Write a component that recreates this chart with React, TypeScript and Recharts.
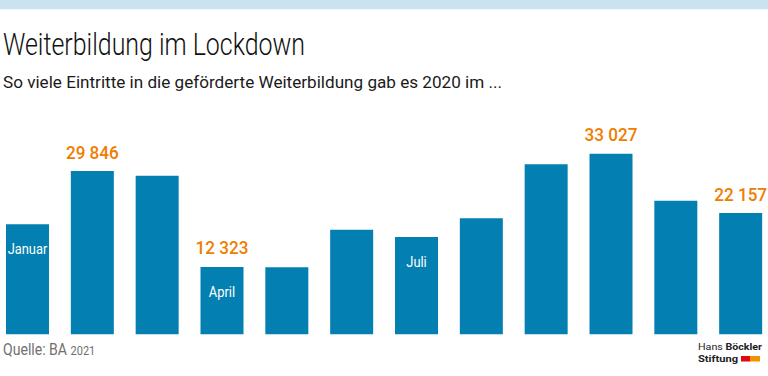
import React from 'react';
import { BarChart, Bar, XAxis, YAxis, LabelList } from 'recharts';

const months = ['Januar', 'Februar', 'März', 'April', 'Mai', 'Juni', 'Juli', 'August', 'September', 'Oktober', 'November', 'Dezember'];
const entries = [20100, 29846, 29000, 12323, 12250, 19100, 17800, 21200, 31100, 33027, 24400, 22157];
const valueLabelMonths = ['Februar', 'April', 'Oktober', 'Dezember'];
const insideLabelMonths = ['Januar', 'April', 'Juli'];

const title = 'Weiterbildung im Lockdown';
const subtitle = 'So viele Eintritte in die geförderte Weiterbildung gab es 2020 im ...';
const source = 'Quelle: BA';
const sourceYear = '2021';

const data = months.map((m, i) => ({
  month: m,
  value: entries[i],
  valueLabel: valueLabelMonths.includes(m) ? entries[i] : null,
  monthLabel: insideLabelMonths.includes(m) ? m : null,
}));

const BLUE = '#0380b1';
const ORANGE = '#f07d00';
const FONT = 'Roboto, "Liberation Sans", sans-serif';

const fmt = (v: number) => String(v).replace(/\B(?=(\d{3})+(?!\d))/g, ' ');

const ValueLabel = (props: any) => {
  const { x, y, width, value } = props;
  if (value === null || value === undefined) return null;
  return (
    <text transform={`translate(${x + width / 2},${y - 12.5}) scale(0.9,1)`} textAnchor="middle" fill={ORANGE}
      fontFamily={FONT} fontSize={19} fontWeight={500}>
      {fmt(value)}
    </text>
  );
};

const MonthLabel = (props: any) => {
  const { x, y, width, value } = props;
  if (!value) return null;
  return (
    <text transform={`translate(${x + width / 2},${y + 30}) scale(0.86,1)`} textAnchor="middle" fill="#ffffff"
      fontFamily={FONT} fontSize={15}>
      {value}
    </text>
  );
};

export default function App() {
  return (
    <div style={{ position: 'absolute', left: 0, top: 0, width: 768, height: 376, overflow: 'hidden', background: '#fff' }}>
      <svg width={768} height={376} style={{ position: 'absolute', left: 0, top: 0 }}>
        <rect x={0} y={0} width={768} height={9.3} fill="#c9e4f0" />
        <text x={3} y={55} fontFamily={FONT} fontSize={32} fontWeight={300} fill="#111"
          textLength={302} lengthAdjust="spacingAndGlyphs">{title}</text>
        <text x={3} y={87.5} fontFamily={FONT} fontSize={16} fill="#1a1a1a"
          textLength={499} lengthAdjust="spacingAndGlyphs">{subtitle}</text>
        <text transform="translate(3,355) scale(0.88,1)" fontFamily={FONT} fontSize={16} fill="#707070">
          <tspan>{source} </tspan><tspan fontSize={12.5}>{sourceYear}</tspan>
        </text>
        <text x={698} y={350.3} fontFamily={FONT} fontSize={9.5} fill="#222"
          textLength={64} lengthAdjust="spacingAndGlyphs">
          <tspan>Hans </tspan><tspan fontWeight={700}>Böckler</tspan>
        </text>
        <text x={698} y={361.7} fontFamily={FONT} fontSize={9.5} fontWeight={700} fill="#222"
          textLength={40} lengthAdjust="spacingAndGlyphs">Stiftung</text>
        <rect x={741} y={356} width={9} height={5.5} fill="#e30613" />
        <rect x={750} y={356} width={10} height={5.5} fill="#f39200" />
      </svg>
      <div style={{ position: 'absolute', left: -5, top: 0 }}>
        <BarChart width={778} height={376} data={data}
          margin={{ top: 115.5, right: 0, bottom: 41.7, left: 0 }}>
          <XAxis dataKey="month" height={0} tick={false} tickLine={false}
            axisLine={{ stroke: '#9a9a9a', strokeWidth: 2 }} />
          <YAxis hide domain={[0, 40000]} />
          <Bar dataKey="value" fill={BLUE} barSize={43} isAnimationActive={false}>
            <LabelList dataKey="valueLabel" content={ValueLabel} />
            <LabelList dataKey="monthLabel" content={MonthLabel} />
          </Bar>
        </BarChart>
      </div>
    </div>
  );
}
